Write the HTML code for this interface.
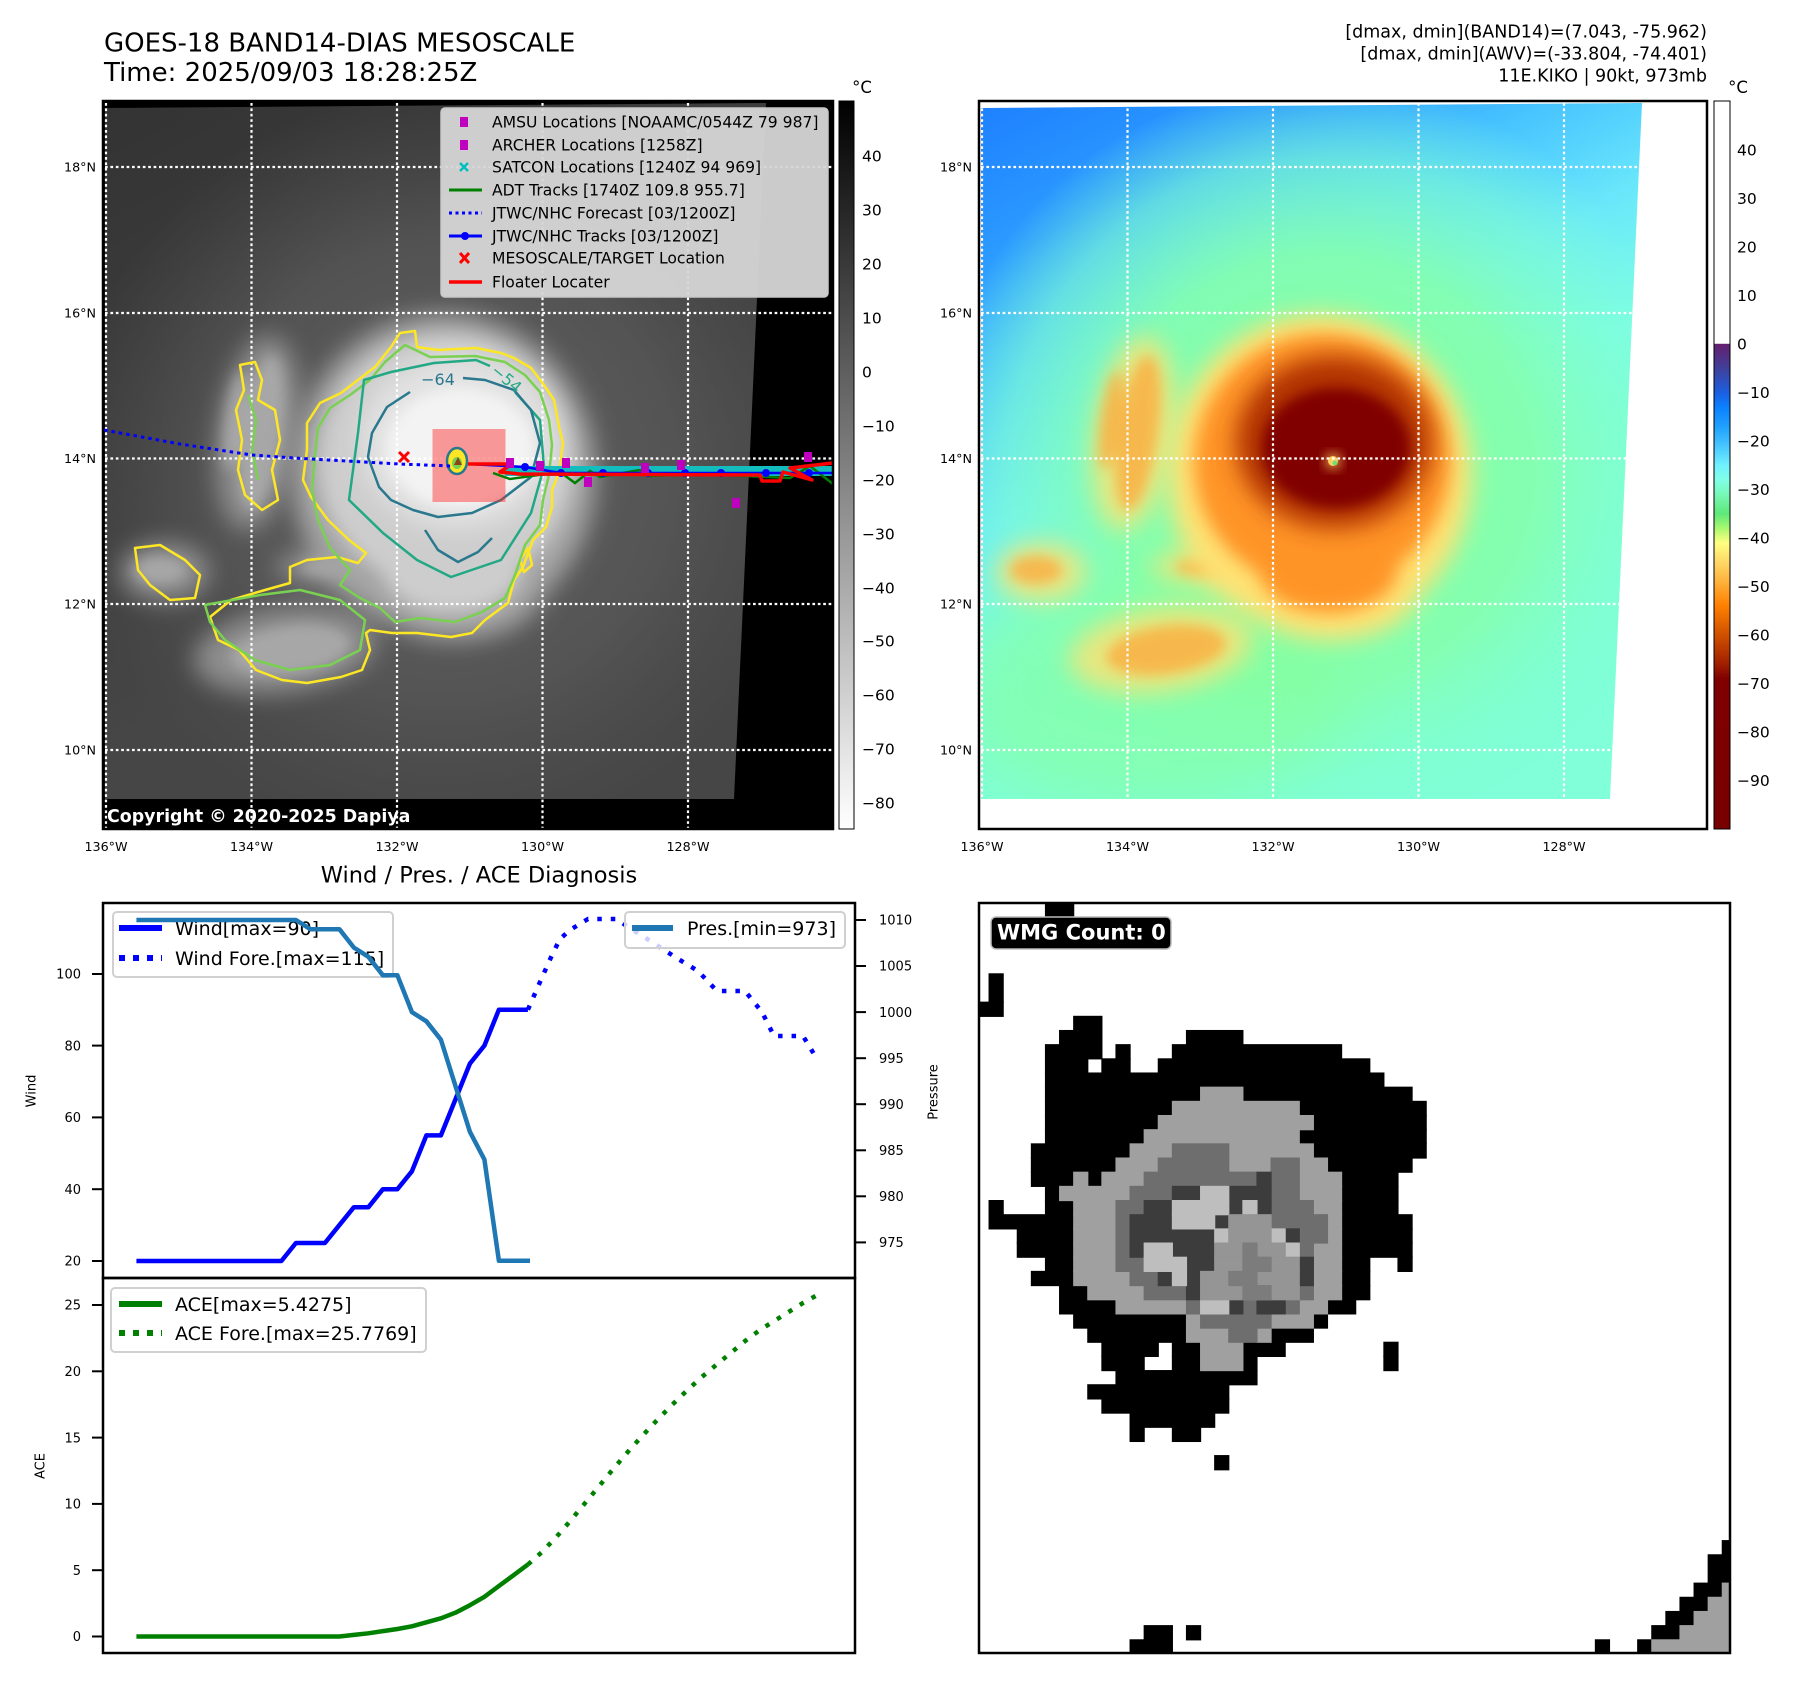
<!DOCTYPE html>
<html><head><meta charset="utf-8">
<style>
html,body{margin:0;padding:0;background:#fff;}
svg{display:block;}
text{font-family:"DejaVu Sans","Liberation Sans",sans-serif;}
</style></head><body>
<svg width="1797" height="1690" viewBox="0 0 1797 1690" xmlns="http://www.w3.org/2000/svg" xmlns:xlink="http://www.w3.org/1999/xlink">
<defs>
 <clipPath id="clipL"><polygon points="105,108 766,103 734,799 105,799"/></clipPath>
 <clipPath id="clipR"><polygon points="981,108 1642,103 1610,799 981,799"/></clipPath>
 <clipPath id="clipW"><rect x="979" y="903" width="751" height="750"/></clipPath>
 <filter id="b6" x="-50%" y="-50%" width="200%" height="200%"><feGaussianBlur stdDeviation="6"/></filter>
 <filter id="b9" x="-50%" y="-50%" width="200%" height="200%"><feGaussianBlur stdDeviation="9"/></filter>
 <filter id="b12" x="-50%" y="-50%" width="200%" height="200%"><feGaussianBlur stdDeviation="12"/></filter>
 <filter id="b30" x="-50%" y="-50%" width="200%" height="200%"><feGaussianBlur stdDeviation="30"/></filter>
 <linearGradient id="gL" gradientUnits="userSpaceOnUse" x1="105" y1="105" x2="374" y2="620">
  <stop offset="0" stop-color="#333"/><stop offset="0.5" stop-color="#3d3d3d"/><stop offset="1" stop-color="#464646"/>
 </linearGradient>
 <radialGradient id="rL" gradientUnits="userSpaceOnUse" cx="444" cy="470" r="380">
  <stop offset="0" stop-color="#626262" stop-opacity="1"/><stop offset="0.6" stop-color="#585858" stop-opacity="0.8"/><stop offset="1" stop-color="#505050" stop-opacity="0"/>
 </radialGradient>
 <linearGradient id="gR" gradientUnits="userSpaceOnUse" x1="981" y1="105" x2="1250" y2="620">
  <stop offset="0" stop-color="#1e80ff"/><stop offset="0.25" stop-color="#2c9cff"/><stop offset="0.45" stop-color="#48c4ff"/><stop offset="0.65" stop-color="#6ae8fa"/><stop offset="0.85" stop-color="#7cfde8"/><stop offset="1" stop-color="#80ffd8"/>
 </linearGradient>
 <radialGradient id="rR" gradientUnits="userSpaceOnUse" cx="444" cy="470" r="390">
  <stop offset="0" stop-color="#88ff98" stop-opacity="1"/><stop offset="0.55" stop-color="#84ffb0" stop-opacity="0.95"/><stop offset="0.8" stop-color="#80ffd0" stop-opacity="0.6"/><stop offset="1" stop-color="#80ffd8" stop-opacity="0"/>
 </radialGradient>
 <linearGradient id="cb1" x1="0" y1="0" x2="0" y2="1">
  <stop offset="0" stop-color="#000"/><stop offset="1" stop-color="#fff"/>
 </linearGradient>
 <linearGradient id="cb2" x1="0" y1="0" x2="0" y2="1">
  <stop offset="0" stop-color="#ffffff"/><stop offset="0.333" stop-color="#ffffff"/>
  <stop offset="0.334" stop-color="#641f6e"/><stop offset="0.367" stop-color="#40409a"/>
  <stop offset="0.400" stop-color="#1c5ee0"/><stop offset="0.420" stop-color="#0a80ff"/>
  <stop offset="0.447" stop-color="#1fa0ff"/><stop offset="0.467" stop-color="#3cbcff"/>
  <stop offset="0.500" stop-color="#70f0ff"/><stop offset="0.520" stop-color="#80ffe8"/>
  <stop offset="0.540" stop-color="#78f8b8"/><stop offset="0.567" stop-color="#5ee878"/>
  <stop offset="0.587" stop-color="#a8f870"/><stop offset="0.607" stop-color="#ffff80"/>
  <stop offset="0.633" stop-color="#ffd868"/><stop offset="0.653" stop-color="#ffbc48"/>
  <stop offset="0.680" stop-color="#ff9418"/><stop offset="0.693" stop-color="#ff8000"/>
  <stop offset="0.720" stop-color="#e06000"/><stop offset="0.747" stop-color="#c04000"/>
  <stop offset="0.773" stop-color="#a02000"/><stop offset="0.793" stop-color="#800000"/>
  <stop offset="1" stop-color="#780000"/>
 </linearGradient>
 <g id="lv1">
  <ellipse cx="444" cy="474" rx="152" ry="160"/>
  <ellipse cx="455" cy="585" rx="90" ry="55"/>
 </g>
 <g id="lv1b">
  <ellipse cx="258" cy="433" rx="40" ry="98" transform="rotate(8 258 433)"/>
  <ellipse cx="165" cy="572" rx="45" ry="30"/>
  <ellipse cx="285" cy="650" rx="92" ry="42" transform="rotate(-8 285 650)"/>
  <ellipse cx="325" cy="567" rx="50" ry="16"/>
 </g>
 <g id="lv2">
  <ellipse cx="446" cy="462" rx="128" ry="128"/>
  <ellipse cx="452" cy="568" rx="70" ry="45"/>
 </g>
 <g id="lv2b">
  <ellipse cx="262" cy="433" rx="20" ry="78" transform="rotate(8 262 433)"/>
  <ellipse cx="235" cy="420" rx="10" ry="50" transform="rotate(8 235 420)"/>
  <ellipse cx="290" cy="650" rx="60" ry="24" transform="rotate(-8 290 650)"/>
  <ellipse cx="160" cy="570" rx="26" ry="14"/>
  <ellipse cx="330" cy="567" rx="30" ry="9"/>
 </g>
 <g id="lv3"><ellipse cx="458" cy="442" rx="98" ry="86"/></g>
 <g id="lv4"><ellipse cx="460" cy="448" rx="74" ry="60"/></g>
</defs>

<rect x="0" y="0" width="1797" height="1690" fill="#fff"/>

<!-- Titles -->
<text x="104" y="51.5" font-size="26">GOES-18 BAND14-DIAS MESOSCALE</text>
<text x="104" y="81" font-size="26">Time: 2025/09/03 18:28:25Z</text>
<text x="1707" y="37.5" font-size="17.5" text-anchor="end">[dmax, dmin](BAND14)=(7.043, -75.962)</text>
<text x="1707" y="59.5" font-size="17.5" text-anchor="end">[dmax, dmin](AWV)=(-33.804, -74.401)</text>
<text x="1707" y="81.5" font-size="17.5" text-anchor="end">11E.KIKO | 90kt, 973mb</text>

<!-- ========== LEFT MAP ========== -->
<rect x="103" y="101" width="730" height="728" fill="#000"/>
<g clip-path="url(#clipL)">
 <rect x="100" y="100" width="700" height="710" fill="url(#gL)"/>
 <circle cx="444" cy="470" r="380" fill="url(#rL)"/>
 <use xlink:href="#lv1b" fill="#9a9a9a" filter="url(#b12)" opacity="0.85"/>
 <use xlink:href="#lv2b" fill="#b8b8b8" filter="url(#b6)" opacity="0.6"/>
 <use xlink:href="#lv1" fill="#a4a4a4" filter="url(#b12)"/>
 <use xlink:href="#lv2" fill="#cdcdcd" filter="url(#b9)"/>
 <use xlink:href="#lv3" fill="#e2e2e2" filter="url(#b12)"/>
 <use xlink:href="#lv4" fill="#f3f3f3" filter="url(#b6)"/>
</g>
<!-- grid -->
<g stroke="#fff" stroke-width="2.2" stroke-dasharray="2.7 2.7" fill="none">
 <line x1="106" y1="103" x2="106" y2="829"/>
 <line x1="251.5" y1="103" x2="251.5" y2="829"/>
 <line x1="397" y1="103" x2="397" y2="829"/>
 <line x1="542.5" y1="103" x2="542.5" y2="829"/>
 <line x1="688" y1="103" x2="688" y2="829"/>
 <line x1="105" y1="167" x2="833" y2="167"/>
 <line x1="105" y1="313" x2="833" y2="313"/>
 <line x1="105" y1="458.5" x2="833" y2="458.5"/>
 <line x1="105" y1="604" x2="833" y2="604"/>
 <line x1="105" y1="750" x2="833" y2="750"/>
</g>
<!-- contours -->
<g fill="none" stroke-width="2.5" stroke-linejoin="round">
 <path stroke="#fde725" d="M400,333 L415,331 L417,347 L438,350 L476,348 L501,353 L514,358 L531,368 L544,385 L554,400 L559,427 L563,443 L559,473 L552,490 L552,507 L546,527 L533,540 L523,567 L514,580 L508,603 L485,620 L472,633 L451,637 L417,633 L392,633 L370,630 L366,633 L370,650 L362,670 L341,677 L307,683 L282,680 L256,670 L239,650 L218,640 L210,617 L231,600 L265,590 L290,583 L290,567 L307,560 L337,557 L358,563 L366,553 L349,540 L328,520 L311,497 L303,480 L307,450 L307,423 L320,403 L341,393 L358,380 L375,367 L391,347 Z"/>
 <path stroke="#fde725" d="M240,365 L255,362 L262,380 L258,400 L275,410 L280,440 L272,470 L278,500 L262,510 L245,495 L238,470 L242,440 L236,410 L244,390 Z"/>
 <path stroke="#fde725" d="M135,548 L160,545 L185,560 L200,575 L195,598 L170,600 L150,585 L138,570 Z"/>
 <path stroke="#fde725" d="M520,560 L528,548 L532,565 L524,572 Z"/>
 <path stroke="#7ad151" d="M405,345 L430,357 L475,356 L505,362 L525,375 L540,392 L549,420 L552,445 L549,475 L543,500 L540,525 L525,545 L515,575 L505,598 L482,612 L455,622 L420,618 L395,622 L380,608 L360,598 L340,585 L350,570 L330,548 L318,520 L312,490 L315,455 L318,428 L330,408 L350,395 L370,380 L385,362 Z"/>
 <path stroke="#7ad151" d="M205,605 L260,595 L300,590 L340,600 L365,620 L360,650 L330,665 L290,670 L255,660 L225,640 L210,622 Z"/>
 <path stroke="#7ad151" d="M248,395 L256,420 L252,450 L258,480"/>
 <path stroke="#22a884" d="M515,392 L540,420 L544,467 L531,513 L501,560 L451,577 L417,560 L383,533 L349,500 L358,433 L364,380 L391,372 L434,363 L476,360 L490,366"/>
 <path stroke="#2a788e" d="M463,378 L485,380 L514,390 L531,410 L540,443 L531,477 L501,500 L472,513 L438,517 L413,510 L391,500 L379,487 L368,457 L372,433 L387,407 L410,392"/>
 <path stroke="#2a788e" d="M425,530 L438,550 L458,562 L478,552 L492,538"/>
</g>
<text x="438" y="385" font-size="16" fill="#2a788e" text-anchor="middle">−64</text>
<text x="503" y="383" font-size="16" fill="#22a884" text-anchor="middle" transform="rotate(40 503 383)">−54</text>
<!-- target box -->
<rect x="432.5" y="429" width="73" height="73" fill="rgba(255,40,40,0.45)"/>
<ellipse cx="457" cy="461" rx="10" ry="13" fill="#fde725" stroke="#2a788e" stroke-width="2.5"/>
<ellipse cx="457" cy="463" rx="5" ry="6" fill="#7ad151"/>
<polygon points="458,457 462,465 454,465" fill="#8b4513"/>
<!-- forecast dotted -->
<polyline points="104,430 180,444 252,455 294,458 399,464 451,466" fill="none" stroke="#0000ff" stroke-width="3" stroke-dasharray="3.5 4"/>
<!-- tracks -->
<polyline points="505,471 833,471" stroke="#14bdbd" stroke-width="10" fill="none"/>
<polyline points="493,473 510,479 560,472 575,483 590,471 600,477 640,470 650,476 700,474 790,478 810,466 833,484" stroke="#008000" stroke-width="2.5" fill="none"/>
<polyline points="468,464 525,467 561,473 833,473" stroke="#0000ff" stroke-width="2.5" fill="none"/>
<g fill="#0000ff">
 <circle cx="525" cy="467" r="4"/><circle cx="561" cy="473" r="4"/><circle cx="603" cy="473" r="4"/><circle cx="648" cy="473" r="4"/>
 <circle cx="685" cy="473" r="4"/><circle cx="721" cy="473" r="4"/><circle cx="766" cy="473" r="4"/><circle cx="809" cy="473" r="4"/>
</g>
<polyline points="468,464 512,464 500,472 520,474 760,475 762,481 780,481 783,472 812,480 790,468 833,463" stroke="#ff0000" stroke-width="3.5" fill="none" stroke-linejoin="round"/>
<g fill="#bf00bf">
 <rect x="506" y="458" width="8" height="10"/><rect x="536" y="461" width="8" height="10"/><rect x="562" y="458" width="8" height="10"/>
 <rect x="641" y="463" width="8" height="10"/><rect x="677" y="460" width="8" height="10"/><rect x="732" y="498" width="8" height="10"/>
 <rect x="804" y="452" width="8" height="10"/><rect x="584" y="477" width="8" height="10"/>
</g>
<g stroke="#ff0000" stroke-width="3"><line x1="399" y1="452" x2="409" y2="462"/><line x1="409" y1="452" x2="399" y2="462"/></g>
<!-- legend -->
<rect x="441" y="108" width="387" height="189" rx="4" fill="#d6d6d6" fill-opacity="0.95" stroke="#c8c8c8" stroke-width="1.5"/>
<rect x="460" y="117" width="8" height="10" fill="#bf00bf"/>
<rect x="460" y="140" width="8" height="10" fill="#bf00bf"/>
<g stroke="#00bfbf" stroke-width="2.5"><line x1="460" y1="163" x2="468" y2="171"/><line x1="468" y1="163" x2="460" y2="171"/></g>
<line x1="449" y1="190" x2="482" y2="190" stroke="#008000" stroke-width="3"/>
<line x1="449" y1="213" x2="482" y2="213" stroke="#0000ff" stroke-width="3" stroke-dasharray="3 3.5"/>
<line x1="449" y1="236" x2="482" y2="236" stroke="#0000ff" stroke-width="3"/><circle cx="465" cy="236" r="4" fill="#0000ff"/>
<g stroke="#ff0000" stroke-width="3"><line x1="460" y1="253" x2="469" y2="263"/><line x1="469" y1="253" x2="460" y2="263"/></g>
<line x1="449" y1="282" x2="482" y2="282" stroke="#ff0000" stroke-width="3.5"/>
<g font-size="15.6" fill="#000">
 <text x="492" y="127.5">AMSU Locations [NOAAMC/0544Z 79 987]</text>
 <text x="492" y="150.5">ARCHER Locations [1258Z]</text>
 <text x="492" y="172.5">SATCON Locations [1240Z 94 969]</text>
 <text x="492" y="195.5">ADT Tracks [1740Z 109.8 955.7]</text>
 <text x="492" y="218.5">JTWC/NHC Forecast [03/1200Z]</text>
 <text x="492" y="241.5">JTWC/NHC Tracks [03/1200Z]</text>
 <text x="492" y="263.5">MESOSCALE/TARGET Location</text>
 <text x="492" y="287.5">Floater Locater</text>
</g>
<text x="107" y="822" font-size="17.4" font-weight="bold" fill="#fff">Copyright © 2020-2025 Dapiya</text>
<rect x="103" y="101" width="730" height="728" fill="none" stroke="#000" stroke-width="2.5"/>
<!-- left labels -->
<g font-size="12.7" text-anchor="end">
 <text x="96" y="171.5">18°N</text><text x="96" y="317.5">16°N</text><text x="96" y="463">14°N</text><text x="96" y="608.5">12°N</text><text x="96" y="754.5">10°N</text>
</g>
<g font-size="12.7" text-anchor="middle">
 <text x="106" y="851">136°W</text><text x="251.5" y="851">134°W</text><text x="397" y="851">132°W</text><text x="542.5" y="851">130°W</text><text x="688" y="851">128°W</text>
</g>
<!-- colorbar 1 -->
<rect x="839" y="101" width="15" height="728" fill="url(#cb1)" stroke="#000" stroke-width="1"/>
<text x="862" y="93" font-size="16.5" text-anchor="middle">°C</text>
<g font-size="15.5">
 <text x="862" y="161.5">40</text><text x="862" y="215.5">30</text><text x="862" y="269.5">20</text><text x="862" y="323.5">10</text>
 <text x="862" y="377.5">0</text><text x="862" y="431.5">−10</text><text x="862" y="485.5">−20</text><text x="862" y="539.5">−30</text>
 <text x="862" y="593.5">−40</text><text x="862" y="646.5">−50</text><text x="862" y="700.5">−60</text><text x="862" y="754.5">−70</text><text x="862" y="808.5">−80</text>
</g>

<!-- ========== RIGHT MAP ========== -->
<g clip-path="url(#clipR)">
 <rect x="975" y="100" width="700" height="710" fill="url(#gR)"/>
 <g transform="translate(876,0)">
  <circle cx="444" cy="470" r="390" fill="url(#rR)"/>
  <ellipse cx="270" cy="690" rx="200" ry="120" fill="#86ff9c" opacity="0.6" filter="url(#b30)"/>
  <use xlink:href="#lv1b" fill="#ffe274" filter="url(#b12)" opacity="0.8"/>
  <use xlink:href="#lv2b" fill="#ffa030" filter="url(#b6)" opacity="0.65"/>
  <use xlink:href="#lv1" fill="#ffe274" filter="url(#b12)"/>
  <use xlink:href="#lv2" fill="#ff9426" filter="url(#b9)"/>
  <use xlink:href="#lv3" fill="#b03200" filter="url(#b12)"/>
  <use xlink:href="#lv4" fill="#800000" filter="url(#b6)"/>
  <circle cx="457" cy="461" r="7" fill="#ffd060" filter="url(#b6)"/>
  <circle cx="457" cy="461" r="5" fill="#ffd060"/>
  <circle cx="459" cy="463" r="2.5" fill="#70e070"/>
 </g>
</g>
<g stroke="#fff" stroke-width="2.2" stroke-dasharray="2.7 2.7" fill="none">
 <line x1="982" y1="103" x2="982" y2="829"/>
 <line x1="1127.5" y1="103" x2="1127.5" y2="829"/>
 <line x1="1273" y1="103" x2="1273" y2="829"/>
 <line x1="1418.5" y1="103" x2="1418.5" y2="829"/>
 <line x1="1564" y1="103" x2="1564" y2="829"/>
 <line x1="981" y1="167" x2="1707" y2="167"/>
 <line x1="981" y1="313" x2="1707" y2="313"/>
 <line x1="981" y1="458.5" x2="1707" y2="458.5"/>
 <line x1="981" y1="604" x2="1707" y2="604"/>
 <line x1="981" y1="750" x2="1707" y2="750"/>
</g>
<rect x="979" y="101" width="728" height="728" fill="none" stroke="#000" stroke-width="2.5"/>
<g font-size="12.7" text-anchor="end">
 <text x="972" y="171.5">18°N</text><text x="972" y="317.5">16°N</text><text x="972" y="463">14°N</text><text x="972" y="608.5">12°N</text><text x="972" y="754.5">10°N</text>
</g>
<g font-size="12.7" text-anchor="middle">
 <text x="982" y="851">136°W</text><text x="1127.5" y="851">134°W</text><text x="1273" y="851">132°W</text><text x="1418.5" y="851">130°W</text><text x="1564" y="851">128°W</text>
</g>
<rect x="1714" y="101" width="16" height="728" fill="url(#cb2)" stroke="#000" stroke-width="1"/>
<text x="1738" y="93" font-size="16.5" text-anchor="middle">°C</text>
<g font-size="15.5">
 <text x="1737" y="155.5">40</text><text x="1737" y="204">30</text><text x="1737" y="252.5">20</text><text x="1737" y="301">10</text>
 <text x="1737" y="349.5">0</text><text x="1737" y="398">−10</text><text x="1737" y="446.5">−20</text><text x="1737" y="495">−30</text>
 <text x="1737" y="543.5">−40</text><text x="1737" y="592">−50</text><text x="1737" y="640.5">−60</text><text x="1737" y="689">−70</text>
 <text x="1737" y="737.5">−80</text><text x="1737" y="786">−90</text>
</g>

<!-- ========== WIND / PRES PANEL ========== -->
<text x="479" y="882.5" font-size="22.5" text-anchor="middle">Wind / Pres. / ACE Diagnosis</text>
<rect x="113" y="912" width="280" height="65" rx="4" fill="#fff" fill-opacity="0.8" stroke="#d0d0d0" stroke-width="2"/>
<line x1="119" y1="928" x2="162" y2="928" stroke="#0000ff" stroke-width="6"/>
<line x1="119" y1="958" x2="162" y2="958" stroke="#0000ff" stroke-width="6" stroke-dasharray="6 8"/>
<text x="175" y="935" font-size="19">Wind[max=90]</text>
<text x="175" y="965" font-size="19">Wind Fore.[max=115]</text>
<polyline fill="none" stroke="#0000ff" stroke-width="4.5" stroke-linejoin="round" points="136.4,1261 281.4,1261 295.9,1243 324.9,1243 339.4,1225.1 353.9,1207.2 368.4,1207.2 382.9,1189.2 397.4,1189.2 411.9,1171.3 426.4,1135.4 440.9,1135.4 455.4,1099.5 469.9,1063.6 484.4,1045.6 498.9,1009.7 527.9,1009.7"/>
<polyline fill="none" stroke="#0000ff" stroke-width="4.5" stroke-dasharray="4.5 9" points="527.9,1009.7 540,982 552,955 560,939 570,930 588,919 617,919 628,927 652,942 675,957 698,971 717,991 745,991 762,1012 774,1036 803,1036 817,1059"/>
<polyline fill="none" stroke="#1f77b4" stroke-width="4.5" stroke-linejoin="round" points="136.4,920 295.9,920 310.4,929.2 339.4,929.2 353.9,947.6 368.4,956.8 382.9,975.3 397.4,975.3 411.9,1012.1 426.4,1021.3 440.9,1039.7 455.4,1085.8 469.9,1131.8 484.4,1159.5 498.9,1260.8 530,1260.8"/>
<rect x="625" y="912" width="220" height="36" rx="4" fill="#fff" fill-opacity="0.8" stroke="#d0d0d0" stroke-width="2"/>
<line x1="632" y1="928" x2="673" y2="928" stroke="#1f77b4" stroke-width="6"/>
<text x="687" y="935" font-size="19">Pres.[min=973]</text>
<rect x="103" y="903" width="752" height="375" fill="none" stroke="#000" stroke-width="2.5"/>
<g stroke="#000" stroke-width="2">
 <line x1="92" y1="974" x2="103" y2="974"/><line x1="92" y1="1045.6" x2="103" y2="1045.6"/><line x1="92" y1="1117.4" x2="103" y2="1117.4"/><line x1="92" y1="1189.2" x2="103" y2="1189.2"/><line x1="92" y1="1261" x2="103" y2="1261"/>
 <line x1="855" y1="920" x2="866" y2="920"/><line x1="855" y1="966" x2="866" y2="966"/><line x1="855" y1="1012.1" x2="866" y2="1012.1"/><line x1="855" y1="1058.2" x2="866" y2="1058.2"/>
 <line x1="855" y1="1104.2" x2="866" y2="1104.2"/><line x1="855" y1="1150.3" x2="866" y2="1150.3"/><line x1="855" y1="1196.3" x2="866" y2="1196.3"/><line x1="855" y1="1242.4" x2="866" y2="1242.4"/>
</g>
<g font-size="13" text-anchor="end">
 <text x="81" y="978.7">100</text><text x="81" y="1050.3">80</text><text x="81" y="1122.1">60</text><text x="81" y="1193.9">40</text><text x="81" y="1265.7">20</text>
</g>
<g font-size="13">
 <text x="879" y="924.7">1010</text><text x="879" y="970.7">1005</text><text x="879" y="1016.8">1000</text><text x="879" y="1062.9">995</text>
 <text x="879" y="1108.9">990</text><text x="879" y="1155">985</text><text x="879" y="1201">980</text><text x="879" y="1247.1">975</text>
</g>
<text x="0" y="0" font-size="13" text-anchor="middle" transform="translate(35.5 1091) rotate(-90)">Wind</text>
<text x="0" y="0" font-size="13" text-anchor="middle" transform="translate(937.5 1092) rotate(-90)">Pressure</text>

<!-- ========== ACE PANEL ========== -->
<polyline fill="none" stroke="#008000" stroke-width="4.5" stroke-linejoin="round" points="136.4,1636.5 339.4,1636.5 353.9,1634.9 368.4,1633.3 382.9,1631.1 397.4,1629 411.9,1626.3 426.4,1622.3 440.9,1618.3 455.4,1612.7 469.9,1605.2 484.4,1596.8 498.9,1586 513.4,1575.3 527.9,1564.5"/>
<polyline fill="none" stroke="#008000" stroke-width="4.5" stroke-dasharray="4.5 9" points="527.9,1564.5 542.4,1551.6 556.9,1536.4 571.4,1519.6 585.9,1502.1 600.4,1484.5 614.9,1467 629.4,1450.1 643.9,1434.1 658.4,1418.7 672.9,1404.1 687.4,1390.1 701.9,1376.9 716.4,1364.8 730.9,1352.8 745.4,1340.8 759.9,1330 774.4,1320.9 788.9,1311.8 803.4,1302.7 817.9,1294.7"/>
<rect x="111" y="1288" width="315" height="64" rx="4" fill="#fff" fill-opacity="0.8" stroke="#d0d0d0" stroke-width="2"/>
<line x1="119" y1="1304" x2="162" y2="1304" stroke="#008000" stroke-width="6"/>
<line x1="119" y1="1333" x2="162" y2="1333" stroke="#008000" stroke-width="6" stroke-dasharray="6 8"/>
<text x="175" y="1311" font-size="19">ACE[max=5.4275]</text>
<text x="175" y="1340" font-size="19">ACE Fore.[max=25.7769]</text>
<rect x="103" y="1278" width="752" height="375" fill="none" stroke="#000" stroke-width="2.5"/>
<g stroke="#000" stroke-width="2">
 <line x1="92" y1="1636.5" x2="103" y2="1636.5"/><line x1="92" y1="1570.2" x2="103" y2="1570.2"/><line x1="92" y1="1503.9" x2="103" y2="1503.9"/>
 <line x1="92" y1="1437.6" x2="103" y2="1437.6"/><line x1="92" y1="1371.3" x2="103" y2="1371.3"/><line x1="92" y1="1305" x2="103" y2="1305"/>
</g>
<g font-size="13" text-anchor="end">
 <text x="81" y="1641.2">0</text><text x="81" y="1574.9">5</text><text x="81" y="1508.6">10</text><text x="81" y="1442.3">15</text><text x="81" y="1376">20</text><text x="81" y="1309.7">25</text>
</g>
<text x="0" y="0" font-size="13" text-anchor="middle" transform="translate(44.5 1466) rotate(-90)">ACE</text>

<!-- ========== WMG PANEL ========== -->
<g clip-path="url(#clipW)">
 <g transform="translate(975 903) scale(14.1 14.17)">
  <g fill="#000" stroke="#000" stroke-width="0.08">
   <rect x="5" y="0" width="2" height="1"/>
   <rect x="1" y="5" width="1" height="2"/>
   <rect x="0" y="7" width="2" height="1"/>
   <rect x="7" y="8" width="2" height="1"/>
   <rect x="6" y="9" width="3" height="1"/><rect x="15" y="9" width="4" height="1"/>
   <rect x="5" y="10" width="4" height="1"/><rect x="10" y="10" width="1" height="1"/><rect x="14" y="10" width="12" height="1"/>
   <rect x="5" y="11" width="3" height="1"/><rect x="9" y="11" width="2" height="1"/><rect x="13" y="11" width="15" height="1"/>
   <rect x="5" y="12" width="24" height="1"/>
   <rect x="5" y="13" width="11" height="1"/><rect x="19" y="13" width="12" height="1"/>
   <rect x="5" y="14" width="9" height="1"/><rect x="23" y="14" width="9" height="1"/>
   <rect x="5" y="15" width="8" height="1"/><rect x="24" y="15" width="8" height="1"/>
   <rect x="5" y="16" width="7" height="1"/><rect x="23" y="16" width="9" height="1"/>
   <rect x="4" y="17" width="7" height="1"/><rect x="24" y="17" width="8" height="1"/>
   <rect x="4" y="18" width="6" height="1"/><rect x="25" y="18" width="6" height="1"/>
   <rect x="4" y="19" width="3" height="1"/><rect x="8" y="19" width="1" height="1"/><rect x="26" y="19" width="4" height="1"/>
   <rect x="5" y="20" width="1" height="1"/><rect x="26" y="20" width="4" height="1"/>
   <rect x="1" y="21" width="1" height="1"/><rect x="5" y="21" width="2" height="1"/><rect x="26" y="21" width="4" height="1"/>
   <rect x="1" y="22" width="6" height="1"/><rect x="26" y="22" width="5" height="1"/>
   <rect x="3" y="23" width="4" height="1"/><rect x="26" y="23" width="5" height="1"/>
   <rect x="3" y="24" width="4" height="1"/><rect x="26" y="24" width="5" height="1"/>
   <rect x="5" y="25" width="2" height="1"/><rect x="26" y="25" width="2" height="1"/><rect x="30" y="25" width="1" height="1"/>
   <rect x="4" y="26" width="3" height="1"/><rect x="26" y="26" width="2" height="1"/>
   <rect x="6" y="27" width="2" height="1"/><rect x="26" y="27" width="2" height="1"/>
   <rect x="6" y="28" width="4" height="1"/><rect x="25" y="28" width="2" height="1"/>
   <rect x="7" y="29" width="8" height="1"/><rect x="24" y="29" width="1" height="1"/>
   <rect x="8" y="30" width="7" height="1"/><rect x="21" y="30" width="3" height="1"/>
   <rect x="9" y="31" width="4" height="1"/><rect x="14" y="31" width="2" height="1"/><rect x="19" y="31" width="3" height="1"/><rect x="29" y="31" width="1" height="1"/>
   <rect x="9" y="32" width="3" height="1"/><rect x="14" y="32" width="2" height="1"/><rect x="19" y="32" width="1" height="1"/><rect x="29" y="32" width="1" height="1"/>
   <rect x="10" y="33" width="10" height="1"/>
   <rect x="8" y="34" width="10" height="1"/>
   <rect x="9" y="35" width="9" height="1"/>
   <rect x="11" y="36" width="6" height="1"/>
   <rect x="11" y="37" width="1" height="1"/><rect x="14" y="37" width="2" height="1"/>
   <rect x="17" y="39" width="1" height="1"/>
   <rect x="53" y="45" width="1" height="1"/>
   <rect x="52" y="46" width="2" height="2"/>
   <rect x="51" y="48" width="2" height="1"/>
   <rect x="50" y="49" width="2" height="1"/>
   <rect x="49" y="50" width="2" height="1"/>
   <rect x="12" y="51" width="2" height="1"/><rect x="15" y="51" width="1" height="1"/><rect x="48" y="51" width="2" height="1"/>
   <rect x="11" y="52" width="3" height="1"/><rect x="44" y="52" width="1" height="1"/><rect x="47" y="52" width="1" height="1"/>
  </g>
  <g fill="#a0a0a0" stroke="#a0a0a0" stroke-width="0.08">
   <rect x="16" y="13" width="3" height="1"/>
   <rect x="14" y="14" width="9" height="1"/>
   <rect x="13" y="15" width="11" height="1"/>
   <rect x="12" y="16" width="11" height="1"/>
   <rect x="11" y="17" width="3" height="1"/><rect x="18" y="17" width="6" height="1"/>
   <rect x="10" y="18" width="3" height="1"/><rect x="18" y="18" width="3" height="1"/><rect x="23" y="18" width="2" height="1"/>
   <rect x="7" y="19" width="1" height="1"/><rect x="9" y="19" width="3" height="1"/><rect x="23" y="19" width="3" height="1"/>
   <rect x="6" y="20" width="5" height="1"/><rect x="23" y="20" width="3" height="1"/>
   <rect x="7" y="21" width="3" height="1"/><rect x="24" y="21" width="2" height="1"/>
   <rect x="7" y="22" width="3" height="1"/><rect x="25" y="22" width="1" height="1"/>
   <rect x="7" y="23" width="3" height="1"/><rect x="25" y="23" width="1" height="1"/>
   <rect x="7" y="24" width="3" height="1"/><rect x="24" y="24" width="2" height="1"/>
   <rect x="7" y="25" width="3" height="1"/><rect x="24" y="25" width="2" height="1"/>
   <rect x="7" y="26" width="4" height="1"/><rect x="24" y="26" width="2" height="1"/>
   <rect x="8" y="27" width="4" height="1"/><rect x="24" y="27" width="2" height="1"/>
   <rect x="10" y="28" width="5" height="1"/><rect x="23" y="28" width="2" height="1"/>
   <rect x="15" y="29" width="1" height="1"/><rect x="21" y="29" width="3" height="1"/>
   <rect x="15" y="30" width="3" height="1"/><rect x="20" y="30" width="1" height="1"/>
   <rect x="16" y="31" width="3" height="2"/>
   <rect x="53" y="48" width="1" height="1"/>
   <rect x="52" y="49" width="2" height="1"/>
   <rect x="51" y="50" width="3" height="1"/>
   <rect x="50" y="51" width="4" height="1"/>
   <rect x="48" y="52" width="6" height="1"/>
  </g>
  <g fill="#6e6e6e" stroke="#6e6e6e" stroke-width="0.08">
   <rect x="14" y="17" width="4" height="1"/>
   <rect x="13" y="18" width="5" height="1"/><rect x="21" y="18" width="2" height="1"/>
   <rect x="12" y="19" width="8" height="1"/><rect x="21" y="19" width="2" height="1"/>
   <rect x="11" y="20" width="3" height="1"/><rect x="21" y="20" width="2" height="1"/>
   <rect x="10" y="21" width="2" height="1"/><rect x="21" y="21" width="3" height="1"/>
   <rect x="10" y="22" width="1" height="1"/><rect x="21" y="22" width="4" height="1"/>
   <rect x="10" y="23" width="1" height="1"/><rect x="23" y="23" width="2" height="1"/>
   <rect x="10" y="24" width="1" height="1"/><rect x="23" y="24" width="1" height="1"/>
   <rect x="10" y="25" width="2" height="1"/>
   <rect x="11" y="26" width="2" height="1"/>
   <rect x="12" y="27" width="3" height="1"/><rect x="23" y="27" width="1" height="1"/>
   <rect x="15" y="28" width="1" height="1"/><rect x="19" y="28" width="1" height="1"/><rect x="22" y="28" width="1" height="1"/>
   <rect x="16" y="29" width="5" height="1"/>
   <rect x="18" y="30" width="2" height="1"/>
  </g>
  <g fill="#3c3c3c" stroke="#3c3c3c" stroke-width="0.08">
   <rect x="20" y="19" width="1" height="1"/>
   <rect x="14" y="20" width="2" height="1"/><rect x="18" y="20" width="3" height="1"/>
   <rect x="12" y="21" width="2" height="1"/><rect x="18" y="21" width="1" height="1"/><rect x="20" y="21" width="1" height="1"/>
   <rect x="11" y="22" width="3" height="1"/><rect x="17" y="22" width="1" height="1"/>
   <rect x="11" y="23" width="6" height="1"/><rect x="22" y="23" width="1" height="1"/>
   <rect x="11" y="24" width="1" height="1"/><rect x="14" y="24" width="3" height="1"/>
   <rect x="15" y="25" width="2" height="1"/><rect x="23" y="25" width="1" height="1"/>
   <rect x="13" y="26" width="1" height="1"/><rect x="15" y="26" width="1" height="1"/><rect x="23" y="26" width="1" height="1"/>
   <rect x="15" y="27" width="1" height="1"/>
   <rect x="18" y="28" width="1" height="1"/><rect x="20" y="28" width="2" height="1"/>
  </g>
  <g fill="#bebebe" stroke="#bebebe" stroke-width="0.08">
   <rect x="16" y="20" width="2" height="1"/>
   <rect x="14" y="21" width="4" height="1"/><rect x="19" y="21" width="1" height="1"/>
   <rect x="14" y="22" width="3" height="1"/>
   <rect x="17" y="23" width="1" height="1"/><rect x="21" y="23" width="1" height="1"/>
   <rect x="12" y="24" width="2" height="1"/><rect x="22" y="24" width="1" height="1"/>
   <rect x="12" y="25" width="3" height="1"/>
   <rect x="14" y="26" width="1" height="1"/>
   <rect x="16" y="28" width="2" height="1"/>
  </g>
  <g fill="#959595" stroke="#959595" stroke-width="0.08">
   <rect x="18" y="22" width="3" height="2"/>
   <rect x="17" y="24" width="5" height="1"/>
   <rect x="17" y="25" width="6" height="1"/>
   <rect x="16" y="26" width="7" height="2"/>
  </g>
  <g fill="#7c7c7c" stroke="#7c7c7c" stroke-width="0.08">
   <rect x="19" y="24" width="1" height="1"/><rect x="19" y="25" width="2" height="1"/><rect x="18" y="26" width="2" height="1"/><rect x="19" y="27" width="2" height="1"/>
  </g>
 </g>
</g>
<rect x="991" y="917" width="180" height="32" rx="5" fill="#000" stroke="#bbbbbb" stroke-width="1.5"/>
<text x="997" y="939.5" font-size="21" font-weight="bold" fill="#fff">WMG Count: 0</text>
<rect x="979" y="903" width="751" height="750" fill="none" stroke="#000" stroke-width="2.5"/>
</svg>
</body></html>
